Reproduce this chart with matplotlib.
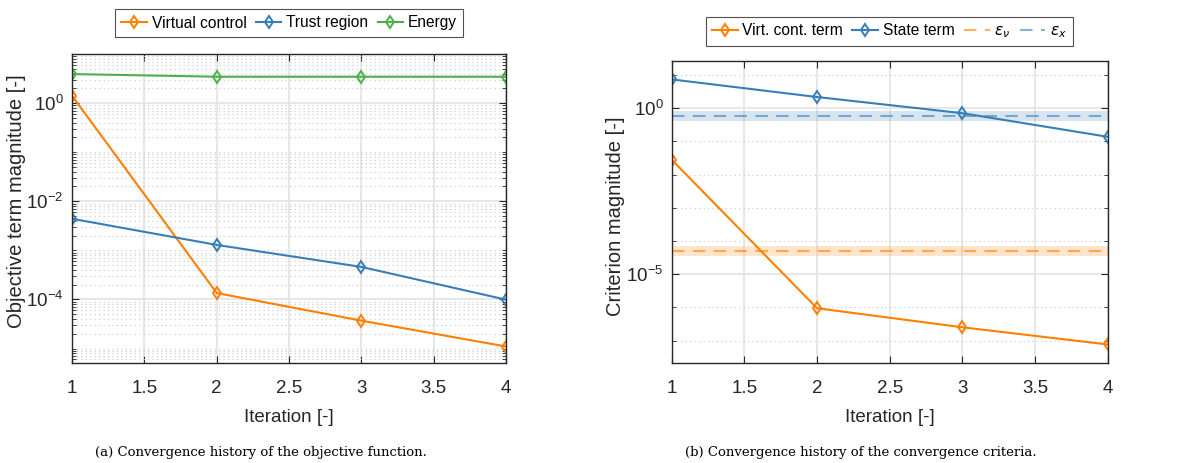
import numpy as np
import matplotlib
matplotlib.use('Agg')
import matplotlib.pyplot as plt
from matplotlib.ticker import FixedLocator, LogLocator, NullFormatter, MultipleLocator

plt.rcParams['font.family'] = ['Liberation Sans', 'DejaVu Sans']
plt.rcParams['mathtext.default'] = 'it'

# Data
iters = [1, 2, 3, 4]

virtual_control = [1.41, 1.35e-4, 3.7e-5, 1.1e-5]
trust_region = [4.4e-3, 1.29e-3, 4.6e-4, 9.9e-5]
energy = [3.9, 3.44, 3.44, 3.44]

virt_cont_term = [2.8e-2, 9.4e-7, 2.5e-7, 7.6e-8]
state_term = [7.4, 2.18, 0.71, 0.138]
eps_nu = 5e-5
eps_nu_band = [3.6e-5, 7.2e-5]
eps_x = 0.6
eps_x_band = [0.42, 0.83]

orange = '#ff7f00'
blue = '#377eb8'
green = '#4daf4a'
spine_col = '#262626'

fig = plt.figure(figsize=(11.87, 4.63), dpi=100)
ax1 = fig.add_axes([0.0607, 0.2153, 0.3656, 0.6681])
ax2 = fig.add_axes([0.5659, 0.216, 0.3673, 0.6523])


def style(ax):
    ax.set_yscale('log')
    ax.set_xlim(1, 4)
    ax.xaxis.set_major_locator(MultipleLocator(0.5))
    ax.xaxis.set_major_formatter(plt.FuncFormatter(lambda v, p: f'{v:g}'))
    ax.tick_params(which='both', direction='in', top=True, right=True,
                   colors=spine_col, labelcolor='#262626', labelsize=13.5)
    ax.tick_params(which='major', length=5, width=0.8, pad=12)
    ax.tick_params(which='minor', length=3, width=0.6)
    ax.tick_params(axis='y', which='major', pad=6)
    for s in ax.spines.values():
        s.set_color(spine_col)
        s.set_linewidth(1.0)
    ax.grid(True, which='major', color='#e3e3e3', linestyle='-', linewidth=1.2)
    ax.grid(True, which='minor', axis='y', color='#c8c8c8', linestyle=(0, (1, 3)), linewidth=0.8)
    ax.set_axisbelow(True)
    ax.set_xlabel('Iteration [-]', fontsize=13.5, color='#262626', labelpad=9)


def log_labels(exps):
    return [r'$\mathregular{10^{%d}}$' % e for e in exps]


mk = dict(marker='d', markersize=6.5, markerfacecolor='none', markeredgewidth=1.4, linewidth=1.5)
leg_kw = dict(loc='center', bbox_transform=fig.transFigure, fontsize=11.2,
              frameon=True, fancybox=False, edgecolor=spine_col,
              handlelength=1.65, columnspacing=0.6, handletextpad=0.3,
              borderpad=0.4)

# (a) objective function terms
style(ax1)
ax1.set_ylim(5e-6, 10)
ax1.yaxis.set_major_locator(FixedLocator([1e-4, 1e-2, 1e0]))
ax1.yaxis.set_minor_locator(LogLocator(base=10, subs=np.arange(1, 10), numticks=50))
ax1.yaxis.set_minor_formatter(NullFormatter())
ax1.set_yticklabels(log_labels([-4, -2, 0]))
ax1.plot(iters, virtual_control, color=orange, label='Virtual control', **mk)
ax1.plot(iters, trust_region, color=blue, label='Trust region', **mk)
ax1.plot(iters, energy, color=green, label='Energy', **mk)
ax1.set_ylabel('Objective term magnitude [-]', fontsize=14.5, color='#262626')
ax1.yaxis.set_label_coords(-0.107, 0.523)
leg1 = ax1.legend(bbox_to_anchor=(289 / 1187, 1 - 23 / 463), ncol=3, **leg_kw)
leg1.get_frame().set_linewidth(0.8)

# (b) convergence criteria
style(ax2)
ax2.set_ylim(2.1e-8, 26.6)
ax2.yaxis.set_major_locator(FixedLocator([1e-5, 1e0]))
ax2.yaxis.set_minor_locator(LogLocator(base=10, subs=[1.0], numticks=50))
ax2.yaxis.set_minor_formatter(NullFormatter())
ax2.set_yticklabels(log_labels([-5, 0]))
ax2.axhspan(eps_nu_band[0], eps_nu_band[1], color=orange, alpha=0.2, lw=0)
ax2.axhspan(eps_x_band[0], eps_x_band[1], color=blue, alpha=0.2, lw=0)
ax2.plot(iters, virt_cont_term, color=orange, label='Virt. cont. term', **mk)
ax2.plot(iters, state_term, color=blue, label='State term', **mk)
ax2.axhline(eps_nu, color=orange, alpha=0.6, linestyle=(0, (6, 4)), linewidth=1.5,
            label=r'$\epsilon_{\nu}$')
ax2.axhline(eps_x, color=blue, alpha=0.6, linestyle=(0, (6, 4)), linewidth=1.5,
            label=r'$\epsilon_{x}$')
ax2.set_ylabel('Criterion magnitude [-]', fontsize=14.5, color='#262626')
ax2.yaxis.set_label_coords(-0.108, 0.487)
leg2 = ax2.legend(bbox_to_anchor=(889.5 / 1187, 1 - 31.7 / 463), ncol=4, **leg_kw)
leg2.get_frame().set_linewidth(0.8)

# sub-captions
fig.text(261 / 1187, 1 - 452.5 / 463, '(a) Convergence history of the objective function.',
         ha='center', va='center', fontsize=9.5, family='DejaVu Serif')
fig.text(861 / 1187, 1 - 452.5 / 463, '(b) Convergence history of the convergence criteria.',
         ha='center', va='center', fontsize=9.5, family='DejaVu Serif')

fig.savefig('out.png', dpi=100)
